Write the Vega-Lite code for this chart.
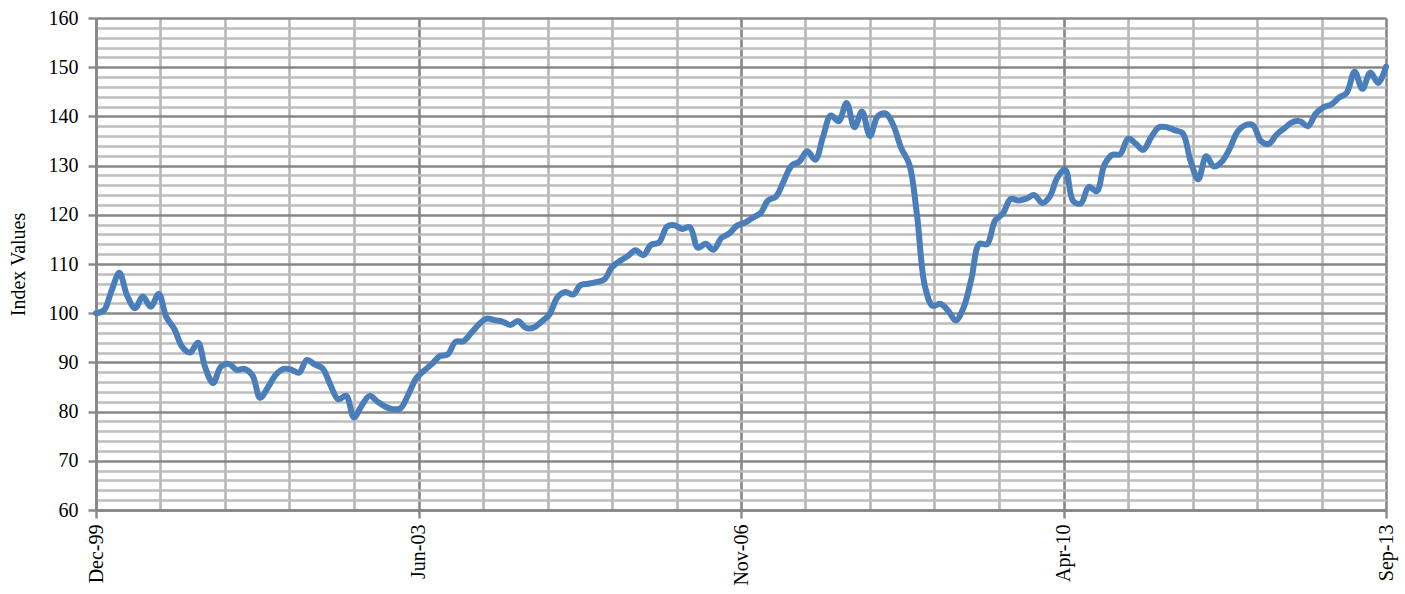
{
  "$schema": "https://vega.github.io/schema/vega-lite/v6.json",
  "width": 1290,
  "height": 492,
  "autosize": {"type": "none"},
  "padding": {"left": 96, "top": 18, "right": 19, "bottom": 84},
  "background": "#ffffff",
  "config": {
    "view": {"stroke": null},
    "font": "Liberation Serif"
  },
  "data": {
    "values": [
      {"date": "1999-12-31", "value": 100.0},
      {"date": "2000-01-31", "value": 100.6},
      {"date": "2000-02-29", "value": 104.5},
      {"date": "2000-03-31", "value": 108.2},
      {"date": "2000-04-30", "value": 103.6},
      {"date": "2000-05-31", "value": 101.0},
      {"date": "2000-06-30", "value": 103.4},
      {"date": "2000-07-31", "value": 101.3},
      {"date": "2000-08-31", "value": 103.9},
      {"date": "2000-09-30", "value": 99.2},
      {"date": "2000-10-31", "value": 96.8},
      {"date": "2000-11-30", "value": 93.2},
      {"date": "2000-12-31", "value": 92.0},
      {"date": "2001-01-31", "value": 94.0},
      {"date": "2001-02-28", "value": 89.0},
      {"date": "2001-03-31", "value": 85.8},
      {"date": "2001-04-30", "value": 89.1},
      {"date": "2001-05-31", "value": 89.7},
      {"date": "2001-06-30", "value": 88.5},
      {"date": "2001-07-31", "value": 88.7},
      {"date": "2001-08-31", "value": 87.4},
      {"date": "2001-09-30", "value": 82.8},
      {"date": "2001-10-31", "value": 85.0},
      {"date": "2001-11-30", "value": 87.5},
      {"date": "2001-12-31", "value": 88.7},
      {"date": "2002-01-31", "value": 88.5},
      {"date": "2002-02-28", "value": 87.9},
      {"date": "2002-03-31", "value": 90.5},
      {"date": "2002-04-30", "value": 89.6},
      {"date": "2002-05-31", "value": 88.8},
      {"date": "2002-06-30", "value": 85.5},
      {"date": "2002-07-31", "value": 82.5},
      {"date": "2002-08-31", "value": 83.2},
      {"date": "2002-09-30", "value": 78.8},
      {"date": "2002-10-31", "value": 81.3},
      {"date": "2002-11-30", "value": 83.2},
      {"date": "2002-12-31", "value": 82.0},
      {"date": "2003-01-31", "value": 81.0},
      {"date": "2003-02-28", "value": 80.5},
      {"date": "2003-03-31", "value": 80.7},
      {"date": "2003-04-30", "value": 83.5},
      {"date": "2003-05-31", "value": 86.8},
      {"date": "2003-06-30", "value": 88.3},
      {"date": "2003-07-31", "value": 89.7},
      {"date": "2003-08-31", "value": 91.3},
      {"date": "2003-09-30", "value": 91.6},
      {"date": "2003-10-31", "value": 94.2},
      {"date": "2003-11-30", "value": 94.3},
      {"date": "2003-12-31", "value": 96.0},
      {"date": "2004-01-31", "value": 97.8},
      {"date": "2004-02-29", "value": 98.9},
      {"date": "2004-03-31", "value": 98.6},
      {"date": "2004-04-30", "value": 98.3},
      {"date": "2004-05-31", "value": 97.6},
      {"date": "2004-06-30", "value": 98.4},
      {"date": "2004-07-31", "value": 97.0},
      {"date": "2004-08-31", "value": 97.1},
      {"date": "2004-09-30", "value": 98.3},
      {"date": "2004-10-31", "value": 99.8},
      {"date": "2004-11-30", "value": 103.2},
      {"date": "2004-12-31", "value": 104.3},
      {"date": "2005-01-31", "value": 103.8},
      {"date": "2005-02-28", "value": 105.7},
      {"date": "2005-03-31", "value": 106.0},
      {"date": "2005-04-30", "value": 106.3},
      {"date": "2005-05-31", "value": 106.8},
      {"date": "2005-06-30", "value": 109.3},
      {"date": "2005-07-31", "value": 110.6},
      {"date": "2005-08-31", "value": 111.6},
      {"date": "2005-09-30", "value": 112.8},
      {"date": "2005-10-31", "value": 111.8},
      {"date": "2005-11-30", "value": 113.9},
      {"date": "2005-12-31", "value": 114.4},
      {"date": "2006-01-31", "value": 117.6},
      {"date": "2006-02-28", "value": 117.9},
      {"date": "2006-03-31", "value": 117.1},
      {"date": "2006-04-30", "value": 117.5},
      {"date": "2006-05-31", "value": 113.3},
      {"date": "2006-06-30", "value": 114.1},
      {"date": "2006-07-31", "value": 112.9},
      {"date": "2006-08-31", "value": 115.3},
      {"date": "2006-09-30", "value": 116.2},
      {"date": "2006-10-31", "value": 117.8},
      {"date": "2006-11-30", "value": 118.4},
      {"date": "2006-12-31", "value": 119.4},
      {"date": "2007-01-31", "value": 120.4},
      {"date": "2007-02-28", "value": 122.9},
      {"date": "2007-03-31", "value": 123.7},
      {"date": "2007-04-30", "value": 126.8},
      {"date": "2007-05-31", "value": 130.0},
      {"date": "2007-06-30", "value": 130.8},
      {"date": "2007-07-31", "value": 132.9},
      {"date": "2007-08-31", "value": 131.2},
      {"date": "2007-09-30", "value": 135.8},
      {"date": "2007-10-31", "value": 140.2},
      {"date": "2007-11-30", "value": 139.0},
      {"date": "2007-12-31", "value": 142.7},
      {"date": "2008-01-31", "value": 137.8},
      {"date": "2008-02-29", "value": 141.0},
      {"date": "2008-03-31", "value": 136.0},
      {"date": "2008-04-30", "value": 140.0},
      {"date": "2008-05-31", "value": 140.6},
      {"date": "2008-06-30", "value": 138.2},
      {"date": "2008-07-31", "value": 133.5},
      {"date": "2008-08-31", "value": 130.3},
      {"date": "2008-09-30", "value": 120.0},
      {"date": "2008-10-31", "value": 105.5},
      {"date": "2008-11-30", "value": 101.5},
      {"date": "2008-12-31", "value": 101.9},
      {"date": "2009-01-31", "value": 100.4},
      {"date": "2009-02-28", "value": 98.5},
      {"date": "2009-03-31", "value": 101.2},
      {"date": "2009-04-30", "value": 107.0},
      {"date": "2009-05-31", "value": 114.1},
      {"date": "2009-06-30", "value": 114.0},
      {"date": "2009-07-31", "value": 118.8},
      {"date": "2009-08-31", "value": 120.3},
      {"date": "2009-09-30", "value": 123.2},
      {"date": "2009-10-31", "value": 122.9},
      {"date": "2009-11-30", "value": 123.3},
      {"date": "2009-12-31", "value": 124.0},
      {"date": "2010-01-31", "value": 122.4},
      {"date": "2010-02-28", "value": 123.6},
      {"date": "2010-03-31", "value": 127.6},
      {"date": "2010-04-30", "value": 129.2},
      {"date": "2010-05-31", "value": 122.8},
      {"date": "2010-06-30", "value": 122.3},
      {"date": "2010-07-31", "value": 125.7},
      {"date": "2010-08-31", "value": 124.8},
      {"date": "2010-09-30", "value": 130.2},
      {"date": "2010-10-31", "value": 132.2},
      {"date": "2010-11-30", "value": 132.3},
      {"date": "2010-12-31", "value": 135.5},
      {"date": "2011-01-31", "value": 134.4},
      {"date": "2011-02-28", "value": 133.2},
      {"date": "2011-03-31", "value": 135.8},
      {"date": "2011-04-30", "value": 137.8},
      {"date": "2011-05-31", "value": 137.8},
      {"date": "2011-06-30", "value": 137.2},
      {"date": "2011-07-31", "value": 136.6},
      {"date": "2011-08-31", "value": 131.0},
      {"date": "2011-09-30", "value": 127.2},
      {"date": "2011-10-31", "value": 131.9},
      {"date": "2011-11-30", "value": 129.8},
      {"date": "2011-12-31", "value": 130.8},
      {"date": "2012-01-31", "value": 133.5},
      {"date": "2012-02-29", "value": 136.8},
      {"date": "2012-03-31", "value": 138.2},
      {"date": "2012-04-30", "value": 138.2},
      {"date": "2012-05-31", "value": 135.0},
      {"date": "2012-06-30", "value": 134.4},
      {"date": "2012-07-31", "value": 136.3},
      {"date": "2012-08-31", "value": 137.6},
      {"date": "2012-09-30", "value": 138.8},
      {"date": "2012-10-31", "value": 139.0},
      {"date": "2012-11-30", "value": 138.0},
      {"date": "2012-12-31", "value": 140.6},
      {"date": "2013-01-31", "value": 141.9},
      {"date": "2013-02-28", "value": 142.4},
      {"date": "2013-03-31", "value": 143.8},
      {"date": "2013-04-30", "value": 144.8},
      {"date": "2013-05-31", "value": 149.1},
      {"date": "2013-06-30", "value": 145.6},
      {"date": "2013-07-31", "value": 148.9},
      {"date": "2013-08-31", "value": 146.8},
      {"date": "2013-09-30", "value": 150.1}
    ]
  },
  "resolve": {"axis": {"x": "independent", "y": "independent"}},
  "layer": [
    {
      "description": "Minor gridlines: every 2 index points and every twentieth of the date span",
      "mark": {"type": "line", "opacity": 0},
      "encoding": {
        "x": {
          "field": "date", "type": "temporal",
          "scale": {"type": "utc", "domain": [{"year": 1999, "month": 12, "date": 31, "utc": true}, {"year": 2013, "month": 9, "date": 30, "utc": true}]},
          "axis": {
            "orient": "bottom", "title": null, "labels": false, "ticks": false, "domain": false,
            "grid": true, "gridColor": "#b7b7b7", "gridWidth": 2.6, "gridOpacity": 1,
            "values": [
              {"year": 2000, "month": 9, "date": 7, "utc": true},
              {"year": 2001, "month": 5, "date": 16, "utc": true},
              {"year": 2002, "month": 1, "date": 22, "utc": true},
              {"year": 2002, "month": 9, "date": 30, "utc": true},
              {"year": 2004, "month": 2, "date": 15, "utc": true},
              {"year": 2004, "month": 10, "date": 23, "utc": true},
              {"year": 2005, "month": 7, "date": 1, "utc": true},
              {"year": 2006, "month": 3, "date": 9, "utc": true},
              {"year": 2007, "month": 7, "date": 24, "utc": true},
              {"year": 2008, "month": 3, "date": 31, "utc": true},
              {"year": 2008, "month": 12, "date": 7, "utc": true},
              {"year": 2009, "month": 8, "date": 15, "utc": true},
              {"year": 2010, "month": 12, "date": 31, "utc": true},
              {"year": 2011, "month": 9, "date": 8, "utc": true},
              {"year": 2012, "month": 5, "date": 16, "utc": true},
              {"year": 2013, "month": 1, "date": 22, "utc": true}
            ]
          }
        },
        "y": {
          "field": "value", "type": "quantitative",
          "scale": {"domain": [60, 160], "nice": false, "zero": false},
          "axis": {
            "orient": "left", "title": null, "labels": false, "ticks": false, "domain": false,
            "grid": true, "gridColor": "#bdbdbd", "gridWidth": 2.5, "gridOpacity": 1,
            "values": [62, 64, 66, 68, 72, 74, 76, 78, 82, 84, 86, 88, 92, 94, 96, 98, 102, 104, 106, 108, 112, 114, 116, 118, 122, 124, 126, 128, 132, 134, 136, 138, 142, 144, 146, 148, 152, 154, 156, 158]
          }
        }
      }
    },
    {
      "description": "Major gridlines, ticks and labels",
      "mark": {"type": "line", "opacity": 0},
      "encoding": {
        "x": {
          "field": "date", "type": "temporal",
          "scale": {"type": "utc", "domain": [{"year": 1999, "month": 12, "date": 31, "utc": true}, {"year": 2013, "month": 9, "date": 30, "utc": true}]},
          "axis": {
            "orient": "bottom", "title": null, "format": "%b-%y",
            "labelAngle": -90, "labelAlign": "right", "labelBaseline": "middle",
            "labelFont": "Liberation Serif", "labelFontSize": 20, "labelColor": "#000000",
            "labelPadding": 6, "labelOverlap": false, "labelFlush": false, "labelBound": false,
            "ticks": true, "tickSize": 8, "tickColor": "#878787", "tickWidth": 2.4,
            "domain": true, "domainColor": "#878787", "domainWidth": 2.6,
            "grid": true, "gridColor": "#878787", "gridWidth": 2.6, "gridOpacity": 1,
            "values": [
              {"year": 1999, "month": 12, "date": 31, "utc": true},
              {"year": 2003, "month": 6, "date": 9, "utc": true},
              {"year": 2006, "month": 11, "date": 15, "utc": true},
              {"year": 2010, "month": 4, "date": 24, "utc": true},
              {"year": 2013, "month": 9, "date": 30, "utc": true}
            ]
          }
        },
        "y": {
          "field": "value", "type": "quantitative",
          "scale": {"domain": [60, 160], "nice": false, "zero": false},
          "axis": {
            "orient": "left", "title": "Index Values",
            "titleFont": "Liberation Serif", "titleFontSize": 20, "titleFontWeight": "normal", "titleColor": "#000000",
            "titlePadding": 20,
            "labelFont": "Liberation Serif", "labelFontSize": 20, "labelColor": "#000000", "labelPadding": 10,
            "ticks": true, "tickSize": 8, "tickColor": "#878787", "tickWidth": 2.4,
            "domain": true, "domainColor": "#878787", "domainWidth": 2.6,
            "grid": true, "gridColor": "#878787", "gridWidth": 2.6, "gridOpacity": 1,
            "values": [60, 70, 80, 90, 100, 110, 120, 130, 140, 150, 160]
          }
        }
      }
    },
    {
      "description": "Index series",
      "mark": {"type": "line", "color": "#4a7ebb", "strokeWidth": 6, "interpolate": "catmull-rom", "strokeCap": "round", "strokeJoin": "round"},
      "encoding": {
        "x": {
          "field": "date", "type": "temporal",
          "scale": {"type": "utc", "domain": [{"year": 1999, "month": 12, "date": 31, "utc": true}, {"year": 2013, "month": 9, "date": 30, "utc": true}]},
          "axis": null
        },
        "y": {
          "field": "value", "type": "quantitative",
          "scale": {"domain": [60, 160], "nice": false, "zero": false},
          "axis": null
        }
      }
    }
  ]
}
